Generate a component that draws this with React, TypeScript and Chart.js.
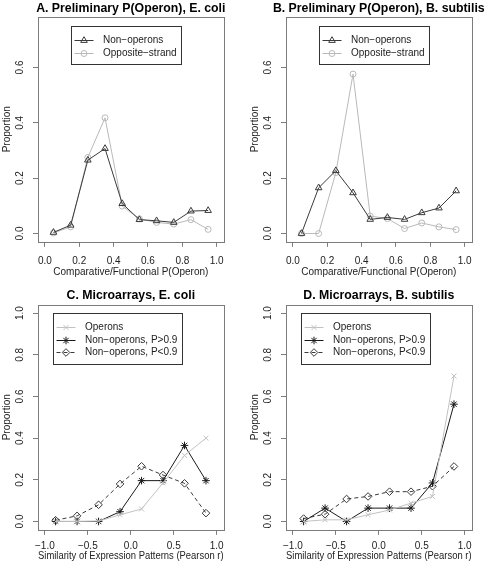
import React, { useEffect, useRef } from "react";
import { Chart, registerables } from "chart.js";
import { drawPoint } from "chart.js/helpers";

Chart.register(...registerables);

// ---------- data ----------
const pBins = [0.05, 0.15, 0.25, 0.35, 0.45, 0.55, 0.65, 0.75, 0.85, 0.95];
const ecoliNonOperons = [0.004, 0.03, 0.265, 0.307, 0.108, 0.05, 0.046, 0.04, 0.081, 0.083];
const ecoliOppositeStrand = [0.002, 0.024, 0.275, 0.418, 0.099, 0.053, 0.04, 0.034, 0.05, 0.015];
const bsubNonOperons = [0.0, 0.165, 0.227, 0.147, 0.051, 0.058, 0.051, 0.075, 0.092, 0.154];
const bsubOppositeStrand = [0.0, 0.0, 0.22, 0.576, 0.063, 0.054, 0.018, 0.038, 0.024, 0.014];

const rBins = [-0.875, -0.625, -0.375, -0.125, 0.125, 0.375, 0.625, 0.875];
const ecoliOperons = [0.0, 0.0, 0.002, 0.032, 0.06, 0.185, 0.317, 0.4];
const ecoliNonOpHigh = [0.0, 0.0, 0.0, 0.047, 0.196, 0.196, 0.365, 0.196];
const ecoliNonOpLow = [0.006, 0.027, 0.08, 0.18, 0.265, 0.223, 0.183, 0.04];
const bsubOperons = [0.0, 0.008, 0.008, 0.032, 0.055, 0.088, 0.12, 0.698];
const bsubNonOpHigh = [0.0, 0.064, 0.0, 0.064, 0.064, 0.064, 0.185, 0.563];
const bsubNonOpLow = [0.014, 0.035, 0.108, 0.12, 0.143, 0.143, 0.169, 0.264];

const pTicks = [0, 0.2, 0.4, 0.6, 0.8, 1.0];
const rTicks = [-1, -0.5, 0, 0.5, 1];
const propTicksTop = [0, 0.2, 0.4, 0.6];
const propTicksBottom = [0, 0.2, 0.4, 0.6, 0.8, 1.0];

const titles = [
  "A. Preliminary P(Operon), E. coli",
  "B. Preliminary P(Operon), B. subtilis",
  "C. Microarrays, E. coli",
  "D. Microarrays, B. subtilis",
];
const xLabelP = "Comparative/Functional P(Operon)";
const xLabelR = "Similarity of Expression Patterns (Pearson r)";
const yLabel = "Proportion";
const seriesNamesTop = ["Non\u2212operons", "Opposite\u2212strand"];
const seriesNamesBottom = ["Operons", "Non\u2212operons, P>0.9", "Non\u2212operons, P<0.9"];

// ---------- styling ----------
const FONT = "'Liberation Sans', Arial, Helvetica, sans-serif";
const W = 239;
const H = 280;
const AREA_LEFT = 38;
const AREA_RIGHT = 223.6;
const AREA_TOP = 16.8;
const AREA_BOTTOM = 241.8;
const AXIS_GRAY = "#7c7c7c";
const TEXT = "#222";

const fmt = (v: number) => (v < -1e-9 ? "\u2212" : "") + Math.abs(v).toFixed(1);

const rPanelPlugin = {
  id: "rPanel",
  beforeDatasetsDraw(chart: any) {
    const { ctx, chartArea: a } = chart;
    ctx.save();
    ctx.strokeStyle = AXIS_GRAY;
    ctx.lineWidth = 1;
    const l = Math.round(a.left) + 0.5;
    const t = Math.round(a.top) + 0.5;
    const r = Math.round(a.right) + 0.5;
    const b = Math.round(a.bottom) + 0.5;
    ctx.strokeRect(l, t, r - l, b - t);
    ctx.restore();
  },
  afterDraw(chart: any, _a: any, opts: any) {
    const { ctx, chartArea: a, scales } = chart;
    const xs = scales.x;
    const ys = scales.y;
    ctx.save();
    // rotated y tick labels (R style)
    ctx.fillStyle = TEXT;
    ctx.font = `10px ${FONT}`;
    ctx.textAlign = "center";
    ctx.textBaseline = "middle";
    for (const v of opts.yTicks as number[]) {
      const py = ys.getPixelForValue(v);
      ctx.save();
      ctx.translate(a.left - 18, py);
      ctx.rotate(-Math.PI / 2);
      ctx.fillText(fmt(v), 0, 0);
      ctx.restore();
    }
    // title
    ctx.fillStyle = "#000";
    ctx.font = `bold 12.3px ${FONT}`;
    ctx.fillText(opts.title, (a.left + a.right) / 2, opts.titleY);
    // legend
    const items = chart.data.datasets;
    const lx = Math.round(xs.getPixelForValue(opts.legendAt[0])) + 0.5;
    const ly = Math.round(ys.getPixelForValue(opts.legendAt[1])) + 0.5;
    ctx.font = `10px ${FONT}`;
    let tw = 0;
    for (const d of items) tw = Math.max(tw, ctx.measureText(d.label).width);
    const rowGap = 12.6;
    const w = Math.round(31.5 + tw + 5);
    const h = Math.round(13.5 + rowGap * (items.length - 1) + 12);
    ctx.strokeStyle = "#333";
    ctx.lineWidth = 1;
    ctx.strokeRect(lx, ly, w, h);
    items.forEach((d: any, i: number) => {
      const ry = Math.round(ly + 13.5 + rowGap * i) + 0.5;
      ctx.strokeStyle = d.borderColor;
      ctx.lineWidth = 1;
      ctx.setLineDash(d.borderDash || []);
      ctx.beginPath();
      ctx.moveTo(lx + 3, ry);
      ctx.lineTo(lx + 22, ry);
      ctx.stroke();
      ctx.setLineDash([]);
      ctx.fillStyle = "rgba(0,0,0,0)";
      drawPoint(ctx, { pointStyle: d.pointStyle, radius: d.pointRadius, borderWidth: 1, rotation: 0 } as any, lx + 12.5, ry);
      ctx.fillStyle = TEXT;
      ctx.textAlign = "left";
      ctx.textBaseline = "middle";
      ctx.fillText(d.label, lx + 31.5, ry);
    });
    ctx.restore();
  },
};

type Series = { label: string; xs: number[]; ys: number[]; color: string; pointStyle: string; radius: number; dash?: number[] };

type PanelSpec = {
  left: number;
  top: number;
  title: string;
  titleY: number;
  xLabel: string;
  xMin: number;
  xMax: number;
  xTicks: number[];
  yMin: number;
  yMax: number;
  yTicks: number[];
  legendAt: [number, number];
  tickPad: number;
  xTitlePad: number;
  series: Series[];
};

const topSeriesA: Series[] = [
  { label: seriesNamesTop[0], xs: pBins, ys: ecoliNonOperons, color: "#3a3a3a", pointStyle: "triangle", radius: 3.8 },
  { label: seriesNamesTop[1], xs: pBins, ys: ecoliOppositeStrand, color: "#b9b9b9", pointStyle: "circle", radius: 3 },
];
const topSeriesB: Series[] = [
  { label: seriesNamesTop[0], xs: pBins, ys: bsubNonOperons, color: "#3a3a3a", pointStyle: "triangle", radius: 3.8 },
  { label: seriesNamesTop[1], xs: pBins, ys: bsubOppositeStrand, color: "#b9b9b9", pointStyle: "circle", radius: 3 },
];
const botSeriesC: Series[] = [
  { label: seriesNamesBottom[0], xs: rBins, ys: ecoliOperons, color: "#c2c2c2", pointStyle: "crossRot", radius: 3.5 },
  { label: seriesNamesBottom[1], xs: rBins, ys: ecoliNonOpHigh, color: "#1a1a1a", pointStyle: "star", radius: 3.8 },
  { label: seriesNamesBottom[2], xs: rBins, ys: ecoliNonOpLow, color: "#3a3a3a", pointStyle: "rectRot", radius: 3.8, dash: [4, 3] },
];
const botSeriesD: Series[] = [
  { label: seriesNamesBottom[0], xs: rBins, ys: bsubOperons, color: "#c2c2c2", pointStyle: "crossRot", radius: 3.5 },
  { label: seriesNamesBottom[1], xs: rBins, ys: bsubNonOpHigh, color: "#1a1a1a", pointStyle: "star", radius: 3.8 },
  { label: seriesNamesBottom[2], xs: rBins, ys: bsubNonOpLow, color: "#3a3a3a", pointStyle: "rectRot", radius: 3.8, dash: [4, 3] },
];

const panels: PanelSpec[] = [
  { left: 0, top: 0, title: titles[0], titleY: 8.5, xLabel: xLabelP, xMin: -0.04, xMax: 1.04, xTicks: pTicks, yMin: -0.03, yMax: 0.783, yTicks: propTicksTop, legendAt: [0.15, 0.75], tickPad: 8.5, xTitlePad: 1.5, series: topSeriesA },
  { left: 248, top: 0, title: titles[1], titleY: 8.5, xLabel: xLabelP, xMin: -0.04, xMax: 1.04, xTicks: pTicks, yMin: -0.03, yMax: 0.783, yTicks: propTicksTop, legendAt: [0.15, 0.75], tickPad: 8.5, xTitlePad: 1.5, series: topSeriesB },
  { left: 0, top: 288, title: titles[2], titleY: 7.5, xLabel: xLabelR, xMin: -1.08, xMax: 1.08, xTicks: rTicks, yMin: -0.04, yMax: 1.04, yTicks: propTicksBottom, legendAt: [-0.9, 1.0], tickPad: 5, xTitlePad: 5.5, series: botSeriesC },
  { left: 248, top: 288, title: titles[3], titleY: 7.5, xLabel: xLabelR, xMin: -1.08, xMax: 1.08, xTicks: rTicks, yMin: -0.04, yMax: 1.04, yTicks: propTicksBottom, legendAt: [-0.9, 1.0], tickPad: 5, xTitlePad: 5.5, series: botSeriesD },
];

function Panel({ spec }: { spec: PanelSpec }) {
  const ref = useRef<HTMLCanvasElement>(null);
  useEffect(() => {
    const canvas = ref.current;
    if (!canvas) return;
    const gridOpts = {
      display: true,
      drawOnChartArea: false,
      drawTicks: true,
      tickLength: 5,
      tickColor: AXIS_GRAY,
      lineWidth: 1,
    };
    const chart = new Chart(canvas, {
      type: "line",
      data: {
        datasets: spec.series.map((s) => ({
          label: s.label,
          data: s.xs.map((x, i) => ({ x, y: s.ys[i] })),
          borderColor: s.color,
          backgroundColor: "rgba(0,0,0,0)",
          borderWidth: 1,
          borderDash: s.dash || [],
          pointStyle: s.pointStyle as any,
          pointRadius: s.radius,
          pointBorderWidth: 1,
          pointBorderColor: s.color,
          pointBackgroundColor: "rgba(0,0,0,0)",
          tension: 0,
          fill: false,
        })),
      },
      options: {
        responsive: false,
        animation: false,
        devicePixelRatio: 1,
        layout: { padding: { left: 0, right: W - AREA_RIGHT, top: AREA_TOP, bottom: 0 } },
        plugins: {
          legend: { display: false },
          tooltip: { enabled: false },
          title: { display: false },
          rPanel: { title: spec.title, titleY: spec.titleY, yTicks: spec.yTicks, legendAt: spec.legendAt },
        } as any,
        scales: {
          x: {
            type: "linear",
            min: spec.xMin,
            max: spec.xMax,
            afterBuildTicks: (s: any) => {
              s.ticks = spec.xTicks.map((v) => ({ value: v }));
            },
            afterFit: (s: any) => {
              s.height = H - AREA_BOTTOM;
            },
            grid: gridOpts,
            border: { display: false },
            ticks: {
              autoSkip: false,
              maxRotation: 0,
              minRotation: 0,
              padding: spec.tickPad,
              color: TEXT,
              font: { family: FONT, size: 10 },
              callback: (v: any) => fmt(Number(v)),
            },
            title: {
              display: true,
              text: spec.xLabel,
              color: TEXT,
              font: { family: FONT, size: 10 },
              padding: { top: 0, bottom: spec.xTitlePad },
            },
          },
          y: {
            type: "linear",
            min: spec.yMin,
            max: spec.yMax,
            afterBuildTicks: (s: any) => {
              s.ticks = spec.yTicks.map((v) => ({ value: v }));
            },
            afterFit: (s: any) => {
              s.width = AREA_LEFT;
            },
            grid: gridOpts,
            border: { display: false },
            ticks: { display: false },
            title: {
              display: true,
              text: yLabel,
              color: TEXT,
              font: { family: FONT, size: 10 },
              padding: { top: 1, bottom: 0 },
            },
          },
        },
      },
      plugins: [rPanelPlugin as any],
    });
    return () => chart.destroy();
  }, [spec]);
  return (
    <div style={{ position: "absolute", left: spec.left, top: spec.top, width: W, height: H }}>
      <canvas ref={ref} width={W} height={H} style={{ width: W, height: H, display: "block" }} />
    </div>
  );
}

export default function App() {
  return (
    <div style={{ position: "fixed", left: 0, top: 0, width: 487, height: 568, background: "#fff", overflow: "hidden" }}>
      {panels.map((p, i) => (
        <Panel key={i} spec={p} />
      ))}
    </div>
  );
}
